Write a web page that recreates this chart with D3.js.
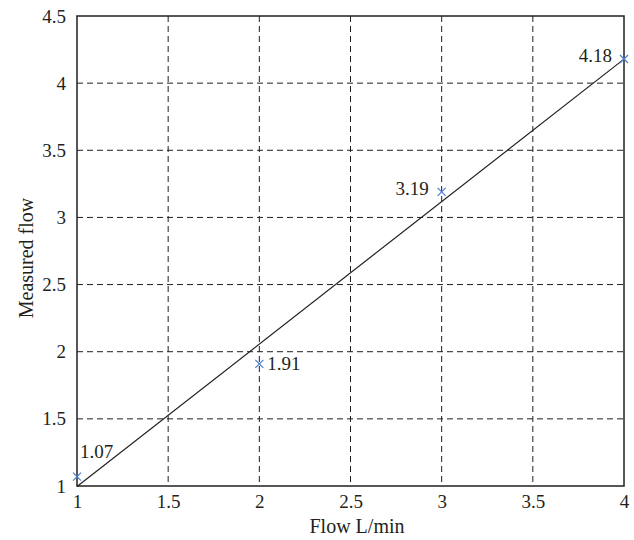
<!DOCTYPE html>
<meta charset="utf-8">
<head>
    <style>
     body { margin: 0; background: #fff; }
     text { font-family: "Liberation Serif", "DejaVu Serif", serif; fill: #231f20; }
    </style>
</head>
<body>
<div id="chart"></div>
</body>
<script src="https://d3js.org/d3.v7.min.js"></script>
<script>
 // measured points
 const flowIn = [1, 2, 3, 4];
 const measured = [1.07, 1.91, 3.19, 4.18];
 const pointLabels = ["1.07", "1.91", "3.19", "4.18"];
 // least-squares fit line, end points
 const fitX = [1, 4];
 const fitY = [0.996, 4.179];

 const xTicks = [1, 1.5, 2, 2.5, 3, 3.5, 4];
 const yTicks = [1, 1.5, 2, 2.5, 3, 3.5, 4, 4.5];

 const width = 634, height = 540;
 const margin = {top: 16, right: 10, bottom: 54, left: 77};

 const svg = d3.select("#chart").append("svg")
               .attr("width", width)
               .attr("height", height);

 const x = d3.scaleLinear().domain([1, 4]).range([margin.left, width - margin.right]);
 const y = d3.scaleLinear().domain([1, 4.5]).range([height - margin.bottom, margin.top]);

 // grid
 const grid = svg.append("g")
                 .attr("stroke", "#231f20")
                 .attr("stroke-width", 1)
                 .attr("stroke-dasharray", "6,4");
 grid.selectAll("line.v")
     .data(xTicks.slice(1, -1))
     .join("line")
     .attr("class", "v")
     .attr("x1", d => x(d)).attr("x2", d => x(d))
     .attr("y1", y(4.5)).attr("y2", y(1));
 grid.selectAll("line.h")
     .data(yTicks.slice(1, -1))
     .join("line")
     .attr("class", "h")
     .attr("x1", x(1)).attr("x2", x(4))
     .attr("y1", d => y(d)).attr("y2", d => y(d));

 // axes
 const xAxis = svg.append("g")
                  .attr("transform", `translate(0,${y(1)})`)
                  .call(d3.axisBottom(x).tickValues(xTicks).tickSize(0).tickPadding(9).tickFormat(d3.format("")));
 const yAxis = svg.append("g")
                  .attr("transform", `translate(${x(1)},0)`)
                  .call(d3.axisLeft(y).tickValues(yTicks).tickSize(0).tickPadding(11).tickFormat(d3.format("")));
 [xAxis, yAxis].forEach(a => {
     a.select(".domain").remove();
     a.selectAll("text").attr("font-size", 19).attr("font-family", "Liberation Serif").attr("fill", "#231f20");
 });

 // frame
 svg.append("rect")
    .attr("x", x(1)).attr("y", y(4.5))
    .attr("width", x(4) - x(1)).attr("height", y(1) - y(4.5))
    .attr("fill", "none")
    .attr("stroke", "#231f20")
    .attr("stroke-width", 1.5);

 // fit line
 svg.append("path")
    .datum(fitX.map((d, i) => [d, fitY[i]]))
    .attr("fill", "none")
    .attr("stroke", "#231f20")
    .attr("stroke-width", 1.2)
    .attr("d", d3.line().x(d => x(d[0])).y(d => y(d[1])));

 // markers
 const pts = flowIn.map((d, i) => ({x: d, y: measured[i], label: pointLabels[i]}));
 const s = 4;
 svg.append("g")
    .attr("stroke", "#4a7fcb")
    .attr("stroke-width", 1.2)
    .selectAll("path")
    .data(pts)
    .join("path")
    .attr("d", d => `M${x(d.x)-s},${y(d.y)-s}L${x(d.x)+s},${y(d.y)+s}M${x(d.x)-s},${y(d.y)+s}L${x(d.x)+s},${y(d.y)-s}`);

 // point labels
 const labelOffsets = [
     {dx: 3, dy: -19, anchor: "start"},
     {dx: 8, dy: 6, anchor: "start"},
     {dx: -13, dy: 3, anchor: "end"},
     {dx: -12, dy: 3, anchor: "end"}
 ];
 svg.append("g")
    .selectAll("text")
    .data(pts)
    .join("text")
    .attr("x", (d, i) => x(d.x) + labelOffsets[i].dx)
    .attr("y", (d, i) => y(d.y) + labelOffsets[i].dy)
    .attr("text-anchor", (d, i) => labelOffsets[i].anchor)
    .attr("font-size", 19)
    .text(d => d.label);

 // axis titles
 svg.append("text")
    .attr("x", 357).attr("y", 533)
    .attr("text-anchor", "middle")
    .attr("font-size", 20)
    .text("Flow L/min");
 svg.append("text")
    .attr("transform", `translate(33,258) rotate(-90)`)
    .attr("text-anchor", "middle")
    .attr("font-size", 20)
    .text("Measured flow");
</script>
